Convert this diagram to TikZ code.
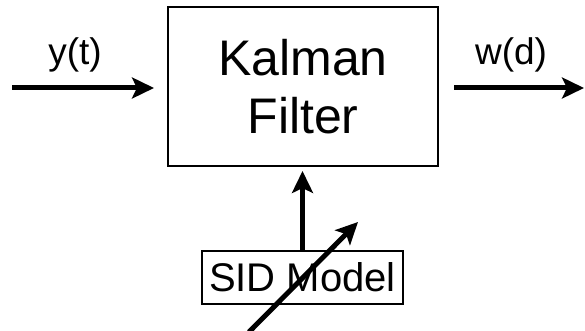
\documentclass[tikz,border=0pt]{standalone}
\usepackage{fontspec}
\setmainfont{Liberation Sans}
\usetikzlibrary{arrows.meta}
\begin{document}
\begin{tikzpicture}[x=1pt,y=1pt,
  blockbox/.style={draw=black, line width=2pt, inner sep=0pt},
  sig/.style={line width=5pt, -{Stealth[length=22pt,width=21pt,inset=5pt]}},
  siglabel/.style={anchor=base, font=\fontsize{37}{40}\selectfont},
]
\useasboundingbox (0,0) rectangle (585,331);

% main processing block
\node[blockbox, minimum width=270pt, minimum height=159pt,
      align=center, font=\fontsize{50}{58}\selectfont] (kf) at (303,244.5)
      {Kalman\\Filter};

% model block below it
\node[blockbox, minimum width=201pt, minimum height=53pt,
      font=\fontsize{40}{44}\selectfont] (sid) at (302.5,53.5) {SID Model};

% signal end points
\coordinate (in)  at (12,243);
\coordinate (out) at (584,243);
\coordinate (dgs) at (249,-1);
\coordinate (dge) at (358,109);

% input and output signals
\draw[sig, shorten >=13pt] (in) -- (in -| kf.west);
\draw[sig, shorten <=15pt] (out -| kf.east) -- (out);
\node[siglabel] (ylab) at (75,266) {y(t)};
\node[siglabel] (wlab) at (511,266) {w(d)};

% model feeds the filter
\draw[sig, shorten >=4pt] (sid.north) -- (sid.north |- kf.south);

% adaptive (tunable) model arrow
\draw[sig] (dgs) -- (dge);
\end{tikzpicture}
\end{document}
